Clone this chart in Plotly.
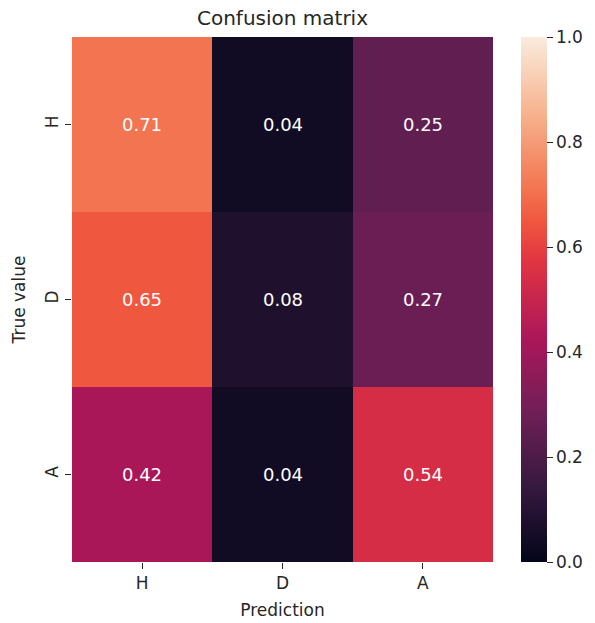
import plotly.graph_objects as go

classes = ["H", "D", "A"]
true_labels = ["H", "D", "A"]
pred_labels = ["H", "D", "A"]
row_H = [0.71, 0.04, 0.25]
row_D = [0.65, 0.08, 0.27]
row_A = [0.42, 0.04, 0.54]
z = [row_H, row_D, row_A]

cbar_ticks = [0.0, 0.2, 0.4, 0.6, 0.8, 1.0]

rocket = [
    [0.0, "#03051a"],
    [1/7, "#35193e"],
    [2/7, "#701f57"],
    [3/7, "#ad1759"],
    [4/7, "#e13342"],
    [0.65, "#f0573f"],
    [5/7, "#f37651"],
    [6/7, "#f6b48f"],
    [1.0, "#faebdd"],
]

FONT = "DejaVu Sans"
TXT = "#262626"

fig = go.Figure(
    go.Heatmap(
        z=z,
        x=pred_labels,
        y=true_labels,
        zmin=0,
        zmax=1,
        colorscale=rocket,
        texttemplate="%{z:.2f}",
        textfont=dict(family=FONT, size=18, color="white"),
        xgap=0,
        ygap=0,
        colorbar=dict(
            x=1.066,
            xanchor="left",
            xpad=0,
            y=0.5,
            yanchor="middle",
            len=1,
            lenmode="fraction",
            ypad=0,
            thickness=26,
            outlinewidth=0,
            tickvals=cbar_ticks,
            tickformat=".1f",
            ticks="outside",
            ticklen=6,
            tickcolor=TXT,
            tickfont=dict(family=FONT, size=17, color=TXT),
        ),
    )
)

fig.update_layout(
    width=595,
    height=623,
    margin=dict(l=72, r=98, t=37, b=61),
    paper_bgcolor="white",
    plot_bgcolor="white",
    font=dict(family=FONT, color=TXT),
    title=dict(
        text="Confusion matrix",
        x=0.5,
        xref="paper",
        xanchor="center",
        y=1,
        yref="paper",
        yanchor="bottom",
        pad=dict(b=12),
        font=dict(family=FONT, size=20, color=TXT),
    ),
    xaxis=dict(
        type="category",
        categoryorder="array",
        categoryarray=classes,
        automargin=False,
        ticks="outside",
        ticklen=6,
        tickcolor=TXT,
        tickfont=dict(family=FONT, size=17, color=TXT),
        showgrid=False,
        zeroline=False,
        showline=False,
        title=dict(text="Prediction", standoff=11, font=dict(family=FONT, size=17, color=TXT)),
    ),
    yaxis=dict(
        type="category",
        categoryorder="array",
        categoryarray=classes,
        autorange="reversed",
        automargin=False,
        ticks="outside",
        ticklen=6,
        tickcolor=TXT,
        tickangle=-90,
        tickfont=dict(family=FONT, size=17, color=TXT),
        showgrid=False,
        zeroline=False,
        showline=False,
        title=dict(text="True value", standoff=12, font=dict(family=FONT, size=17, color=TXT)),
    ),
)

fig.write_html(
    "out.html",
    config={"displayModeBar": False},
    post_script="document.body.style.margin='0';document.body.style.overflow='hidden';",
)
